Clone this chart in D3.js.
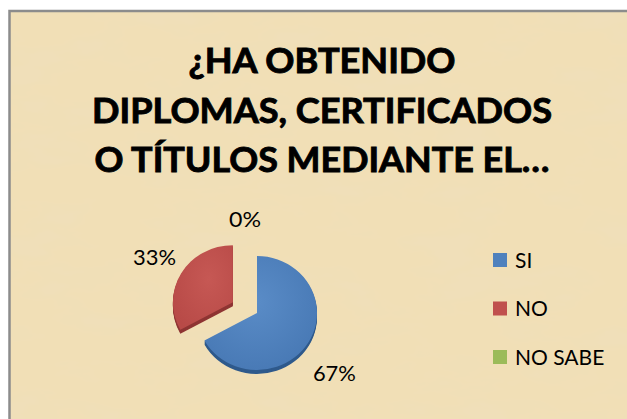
<!DOCTYPE html>
<html><head><meta charset="utf-8">
<script src="https://cdn.jsdelivr.net/npm/d3@7/dist/d3.min.js"></script>
<style>html,body{margin:0;padding:0;background:#fff;}svg{display:block;}</style>
</head><body>
<script>
const categories = ["SI", "NO", "NO SABE"];
const values = [67, 33, 0];
const percentLabels = ["67%", "33%", "0%"];
const titleLines = ["¿HA OBTENIDO", "DIPLOMAS, CERTIFICADOS", "O TÍTULOS MEDIANTE EL…"];

const W = 627, H = 419;
const colors = d3.scaleOrdinal().domain(categories).range(["#4f81bd", "#c0504d", "#9bbb59"]);
const sideColors = d3.scaleOrdinal().domain(categories).range(["#2f5a8c", "#8f3533", "#6f8a3c"]);

const svg = d3.select("body").append("svg").attr("width", W).attr("height", H);
const defs = svg.append("defs");

// parchment texture
const f = defs.append("filter").attr("id", "paper").attr("x", 0).attr("y", 0).attr("width", "100%").attr("height", "100%");
f.append("feTurbulence").attr("type", "fractalNoise").attr("baseFrequency", "0.012 0.03").attr("numOctaves", 4).attr("seed", 7).attr("result", "n");
f.append("feColorMatrix").attr("in", "n").attr("type", "matrix")
  .attr("values", "0 0 0 0 0.86  0 0 0 0 0.76  0 0 0 0 0.55  1.1 0 0 0 -0.45").attr("result", "c");
f.append("feComposite").attr("in", "c").attr("in2", "SourceGraphic").attr("operator", "over");

const frame = svg.append("g");
frame.append("rect").attr("x", 9).attr("y", 11).attr("width", W).attr("height", H)
  .attr("fill", "#f1dfb6");
frame.append("rect").attr("x", 9).attr("y", 11).attr("width", W).attr("height", H)
  .attr("fill", "#f1dfb6").attr("filter", "url(#paper)").attr("opacity", 0.6);
frame.append("path").attr("d", `M9.5,${H} V11 H${W}`).attr("fill", "none").attr("stroke", "#8c8c8c").attr("stroke-width", 2.5);

// title
const title = svg.append("g").attr("font-family", "Lato, 'Open Sans', sans-serif").attr("font-weight", "bold")
  .attr("font-size", 35).attr("fill", "#000").attr("stroke", "#000").attr("stroke-width", 0.9)
  .attr("text-anchor", "middle");
const titleY = d3.scalePoint().domain(titleLines).range([73, 172]);
const titleWidths = [267, 460, 455];
title.selectAll("text").data(titleLines).join("text")
  .attr("x", 322).attr("y", d => titleY(d))
  .attr("textLength", (d, i) => titleWidths[i]).attr("lengthAdjust", "spacingAndGlyphs")
  .text(d => d);

// pie
const rx = 60, ry = 57, depth = 4;
const cx = 257, cy = 313;
const pie = d3.pie().sort(null).value(d => d.v);
const data = categories.map((c, i) => ({ c, v: values[i], label: percentLabels[i] }));
const arcs = pie(data);
const arc = d3.arc().innerRadius(0).outerRadius(rx);
const explode = { "SI": 0, "NO": 28, "NO SABE": 0 };

function sliceCenter(a) {
  const mid = (a.startAngle + a.endAngle) / 2;
  const e = explode[a.data.c];
  return [cx + e * Math.sin(mid), cy - e * Math.cos(mid) * 0.76];
}

const grad = defs.append("radialGradient").attr("id", "blueGrad").attr("cx", "45%").attr("cy", "40%").attr("r", "70%");
grad.append("stop").attr("offset", "0%").attr("stop-color", "#5a8cc7");
grad.append("stop").attr("offset", "100%").attr("stop-color", "#4677b3");
const grad2 = defs.append("radialGradient").attr("id", "redGrad").attr("cx", "60%").attr("cy", "40%").attr("r", "70%");
grad2.append("stop").attr("offset", "0%").attr("stop-color", "#c65854");
grad2.append("stop").attr("offset", "100%").attr("stop-color", "#b84a47");
const fills = { "SI": "url(#blueGrad)", "NO": "url(#redGrad)", "NO SABE": colors("NO SABE") };

const pieG = svg.append("g");
arcs.filter(a => a.data.v > 0).forEach(a => {
  const [sx, sy] = sliceCenter(a);
  for (let k = depth; k >= 1; k--) {
    pieG.append("path").attr("transform", `translate(${sx},${sy + k}) scale(1,${ry / rx})`)
      .attr("d", arc(a)).attr("fill", sideColors(a.data.c));
  }
  pieG.append("path").attr("transform", `translate(${sx},${sy}) scale(1,${ry / rx})`)
    .attr("d", arc(a)).attr("fill", fills[a.data.c]);
});

// labels (outside, excel-like)
const labelNudge = { "SI": [12, 24], "NO": [-13, -8], "NO SABE": [-12, -22] };
const lg = svg.append("g").attr("font-family", "Lato, 'Open Sans', sans-serif").attr("font-size", 22).attr("fill", "#000");
arcs.forEach(a => {
  const mid = (a.startAngle + a.endAngle) / 2;
  const [sx, sy] = sliceCenter(a);
  const r = rx + 16;
  const px = sx + r * Math.sin(mid) + labelNudge[a.data.c][0];
  const py = sy - r * Math.cos(mid) * (ry / rx) + labelNudge[a.data.c][1];
  lg.append("text").attr("x", px).attr("y", py).attr("text-anchor", "middle").attr("dy", "0.35em")
    .attr("textLength", a.data.label.length === 2 ? 32 : 43).attr("lengthAdjust", "spacingAndGlyphs")
    .text(a.data.label);
});

// legend
const legY = d3.scalePoint().domain(categories).range([260, 357]);
const leg = svg.append("g").attr("font-family", "Lato, 'Open Sans', sans-serif").attr("font-size", 21).attr("fill", "#000");
const items = leg.selectAll("g").data(categories).join("g").attr("transform", d => `translate(493,${legY(d)})`);
items.append("rect").attr("x", 0).attr("y", -7).attr("width", 14).attr("height", 14).attr("fill", d => colors(d));
items.append("text").attr("x", 22).attr("y", 0).attr("dy", "0.36em").text(d => d);
</script>
</body></html>
